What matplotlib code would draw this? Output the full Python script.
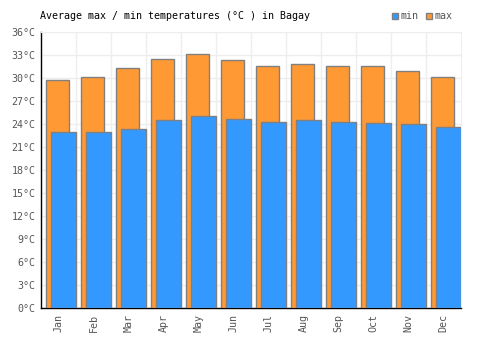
import matplotlib.pyplot as plt
from matplotlib.patches import Rectangle

months = ["Jan", "Feb", "Mar", "Apr", "May", "Jun", "Jul", "Aug", "Sep", "Oct", "Nov", "Dec"]
t_max = [29.7, 30.1, 31.3, 32.4, 33.1, 32.3, 31.6, 31.8, 31.6, 31.5, 30.9, 30.1]
t_min = [22.9, 22.9, 23.3, 24.5, 25.0, 24.6, 24.2, 24.5, 24.2, 24.1, 24.0, 23.6]
yticks = list(range(0, 37, 3))

plt.rcParams['font.family'] = 'DejaVu Sans Mono'

fig = plt.figure(figsize=(5, 3.5), dpi=100)
ax = fig.add_axes([0.082, 0.12, 0.84, 0.789])

x = list(range(len(months)))
ax.bar([i - 0.02 for i in x], t_max, width=0.66, color='#ff9933', edgecolor='#808080',
       linewidth=1, zorder=3, label='max')
ax.bar([i + 0.14 for i in x], t_min, width=0.70, color='#3399ff', edgecolor='#808080',
       linewidth=1, zorder=4, label='min')

ax.set_xlim(-0.5, 11.5)
ax.set_ylim(0, 36)
ax.set_yticks(yticks)
ax.set_yticklabels([f'{t}°C' for t in yticks], fontsize=7.2, color='#555555')
ax.set_xticks(x)
ax.set_xticklabels(months, rotation=90, fontsize=7.2, color='#555555')
ax.set_xticks([i + 0.5 for i in x[:-1]], minor=True)
ax.tick_params(axis='both', which='both', length=0, pad=4)
ax.grid(True, axis='y', color='#eeeeee', linewidth=1, zorder=0)
ax.grid(True, axis='x', which='minor', color='#eeeeee', linewidth=1, zorder=0)

for s in ['top', 'right']:
    ax.spines[s].set_color('#eeeeee')
for s in ['left', 'bottom']:
    ax.spines[s].set_color('black')
    ax.spines[s].set_linewidth(1)

fig.text(0.08, 0.953, 'Average max / min temperatures (°C ) in Bagay', fontsize=7.2,
         color='black', va='center', ha='left')

# legend
for xs, c, lab in [(0.784, '#3399ff', 'min'), (0.852, '#ff9933', 'max')]:
    fig.patches.append(Rectangle((xs, 0.946), 0.012, 0.017, transform=fig.transFigure,
                                 facecolor=c, edgecolor='#808080', linewidth=1))
    fig.text(xs + 0.017, 0.953, lab, fontsize=7.2, color='#555555', va='center', ha='left')

fig.savefig('out.png', dpi=100)
